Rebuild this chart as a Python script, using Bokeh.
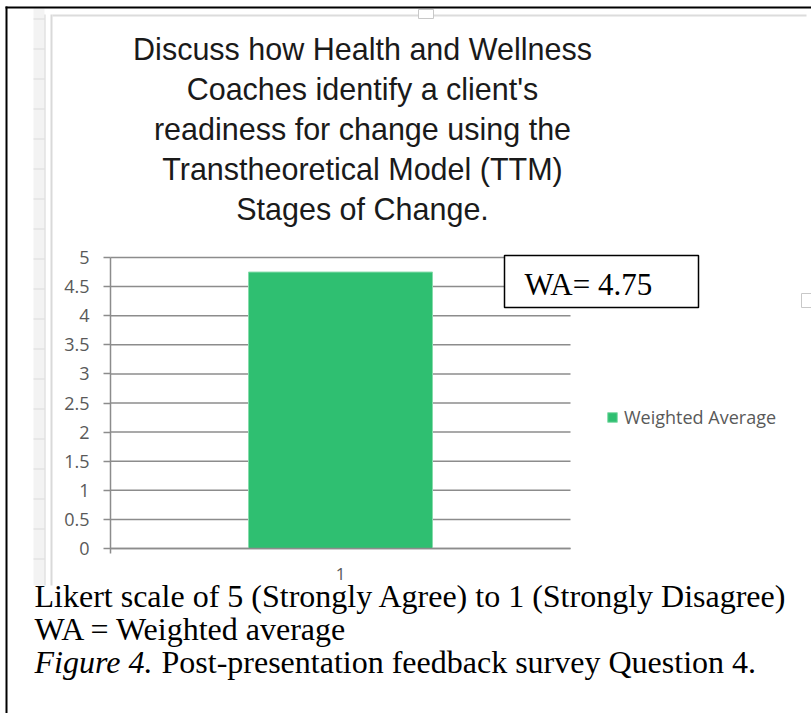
from bokeh.plotting import figure
from bokeh.models import (Range1d, FixedTicker, Label, BoxAnnotation, LinearAxis,
                          Legend, LegendItem, ColumnDataSource)
from bokeh.embed import file_html
from bokeh.resources import INLINE

# ---------------- data ----------------
categories = ["1"]
category_pos = [1]
weighted_average = [4.75]
series_name = "Weighted Average"
y_ticks = [0, 0.5, 1, 1.5, 2, 2.5, 3, 3.5, 4, 4.5, 5]
y_tick_labels = ["0", "0.5", "1", "1.5", "2", "2.5", "3", "3.5", "4", "4.5", "5"]
title_lines = ["Discuss how Health and Wellness",
               "Coaches identify a client's",
               "readiness for change using the",
               "Transtheoretical Model (TTM)",
               "Stages of Change."]
wa_text = "WA= 4.75"
caption_line1 = "Likert scale of 5 (Strongly Agree) to 1 (Strongly Disagree)"
caption_line2 = "WA = Weighted average"
caption_fig = "Figure 4."
caption_line3 = "Post-presentation feedback survey Question 4."

# ---------------- layout (pixels) ----------------
W, H = 811, 713
FL, FR, FT, FB = 110, 570, 257, 548      # chart plot area on the canvas
YMIN, YMAX = 0, 5
XMIN, XMAX = 0.5, 1.5                     # category band
ux = (FR - FL) / (XMAX - XMIN)
uy = (FB - FT) / (YMAX - YMIN)
x_range = Range1d(XMIN - FL / ux, XMAX + (W - FR) / ux)
y_range = Range1d(YMIN - (H - FB) / uy, YMAX + FT / uy)

p = figure(width=W, height=H, x_range=x_range, y_range=y_range,
           x_axis_location=None, y_axis_location=None,
           output_backend="svg", toolbar_location=None,
           min_border=0, min_border_left=0, min_border_right=0,
           min_border_top=0, min_border_bottom=0)
p.outline_line_color = None
p.background_fill_color = "white"
p.border_fill_color = "white"
p.xgrid.visible = False
p.ygrid.visible = False

grid_col = "#8c8c8c"


def box(l, t, r, b, fill, line=None, lw=1, level="underlay"):
    p.add_layout(BoxAnnotation(left=l, right=r, top=t, bottom=b,
                               left_units="canvas", right_units="canvas",
                               top_units="canvas", bottom_units="canvas",
                               fill_color=fill, fill_alpha=1,
                               line_color=line, line_width=lw,
                               line_alpha=1 if line else 0, level=level))


def label(x, y, text, font, size, color="black", align="left", style="normal"):
    # y is the wanted text baseline; small correction for how the label is placed
    p.add_layout(Label(x=x, y=y - 0.36 * size, x_units="canvas", y_units="canvas",
                       text=text, text_font=font, text_font_size=f"{size}px",
                       text_color=color, text_align=align, text_baseline="alphabetic",
                       text_font_style=style))


# document / spreadsheet decorations
box(33, 8, 44, 585, "#f3f3f3")
for ry in range(18, 585, 30):
    box(33, ry, 44, ry + 1, "#dcdcdc")
box(44, 14, 45, 585, "#d4d4d4")
box(50, 14, 52, 585, "#d9d9d9")
box(52, 14, 806, 16, "#dcdcdc")
box(418, 9, 433, 18, "white", "#c8c8c8", 1)
box(801, 293, 811, 307, "white", "#c8c8c8", 1)
box(5, 6, 7, 713, "black")
box(5, 6, 811, 8, "black")

# gridlines (horizontal value lines across the category band)
grid_src = ColumnDataSource(dict(y=y_ticks, x0=[XMIN] * len(y_ticks), x1=[XMAX] * len(y_ticks)))
p.segment(x0="x0", x1="x1", y0="y", y1="y", source=grid_src,
          line_color=grid_col, line_width=1.5)

src = ColumnDataSource(dict(x=category_pos, top=weighted_average))
bars = p.vbar(x="x", top="top", width=0.4, source=src,
              fill_color="#2fbf71", line_color="#86dcab", line_width=1)

ya = LinearAxis(fixed_location=XMIN, bounds=(YMIN - 5 / uy, YMAX),
                ticker=FixedTicker(ticks=y_ticks))
ya.major_label_overrides = {t: l for t, l in zip(y_ticks, y_tick_labels)}
ya.axis_line_color = grid_col
ya.axis_line_width = 1.5
ya.major_tick_line_color = grid_col
ya.major_tick_line_width = 1.5
ya.major_tick_out = 7
ya.major_tick_in = 0
ya.minor_tick_line_color = None
ya.major_label_standoff = 14
ya.major_label_text_font = "Open Sans"
ya.major_label_text_font_size = "18px"
ya.major_label_text_color = "#595959"
p.add_layout(ya, "left")

xa = LinearAxis(fixed_location=YMIN, bounds=(XMIN, XMAX),
                ticker=FixedTicker(ticks=category_pos))
xa.major_label_overrides = {pos: c for pos, c in zip(category_pos, categories)}
xa.axis_line_color = grid_col
xa.axis_line_width = 1.5
xa.major_tick_line_color = None
xa.minor_tick_line_color = None
xa.major_tick_out = 0
xa.major_tick_in = 0
xa.major_label_standoff = 19
xa.major_label_text_font = "Open Sans"
xa.major_label_text_font_size = "17px"
xa.major_label_text_color = "#595959"
p.add_layout(xa, "below")

legend = Legend(items=[LegendItem(label=series_name, renderers=[bars])],
                location=(606, H - 429),
                glyph_width=12, glyph_height=12, label_standoff=6,
                label_text_font="Open Sans", label_text_font_size="18px",
                label_text_color="#595959", padding=0, margin=0, spacing=0,
                border_line_alpha=0, background_fill_alpha=0)
p.add_layout(legend)

# chart title
for i, t in enumerate(title_lines):
    label(362, 59 + i * 40.2, t, "Liberation Sans", 30.5, "#1a1a1a", "center")

# WA box
box(504, 255, 698, 307, "white", "black", 1.5, level="annotation")
label(524, 295, wa_text, "Liberation Serif", 31)

# caption
label(34, 607, caption_line1, "Liberation Serif", 32)
label(34, 640, caption_line2, "Liberation Serif", 32)
label(34, 673, caption_fig, "Liberation Serif", 32, style="italic")
label(161, 673, caption_line3, "Liberation Serif", 32)

open("out.html", "w").write(file_html(p, INLINE))
